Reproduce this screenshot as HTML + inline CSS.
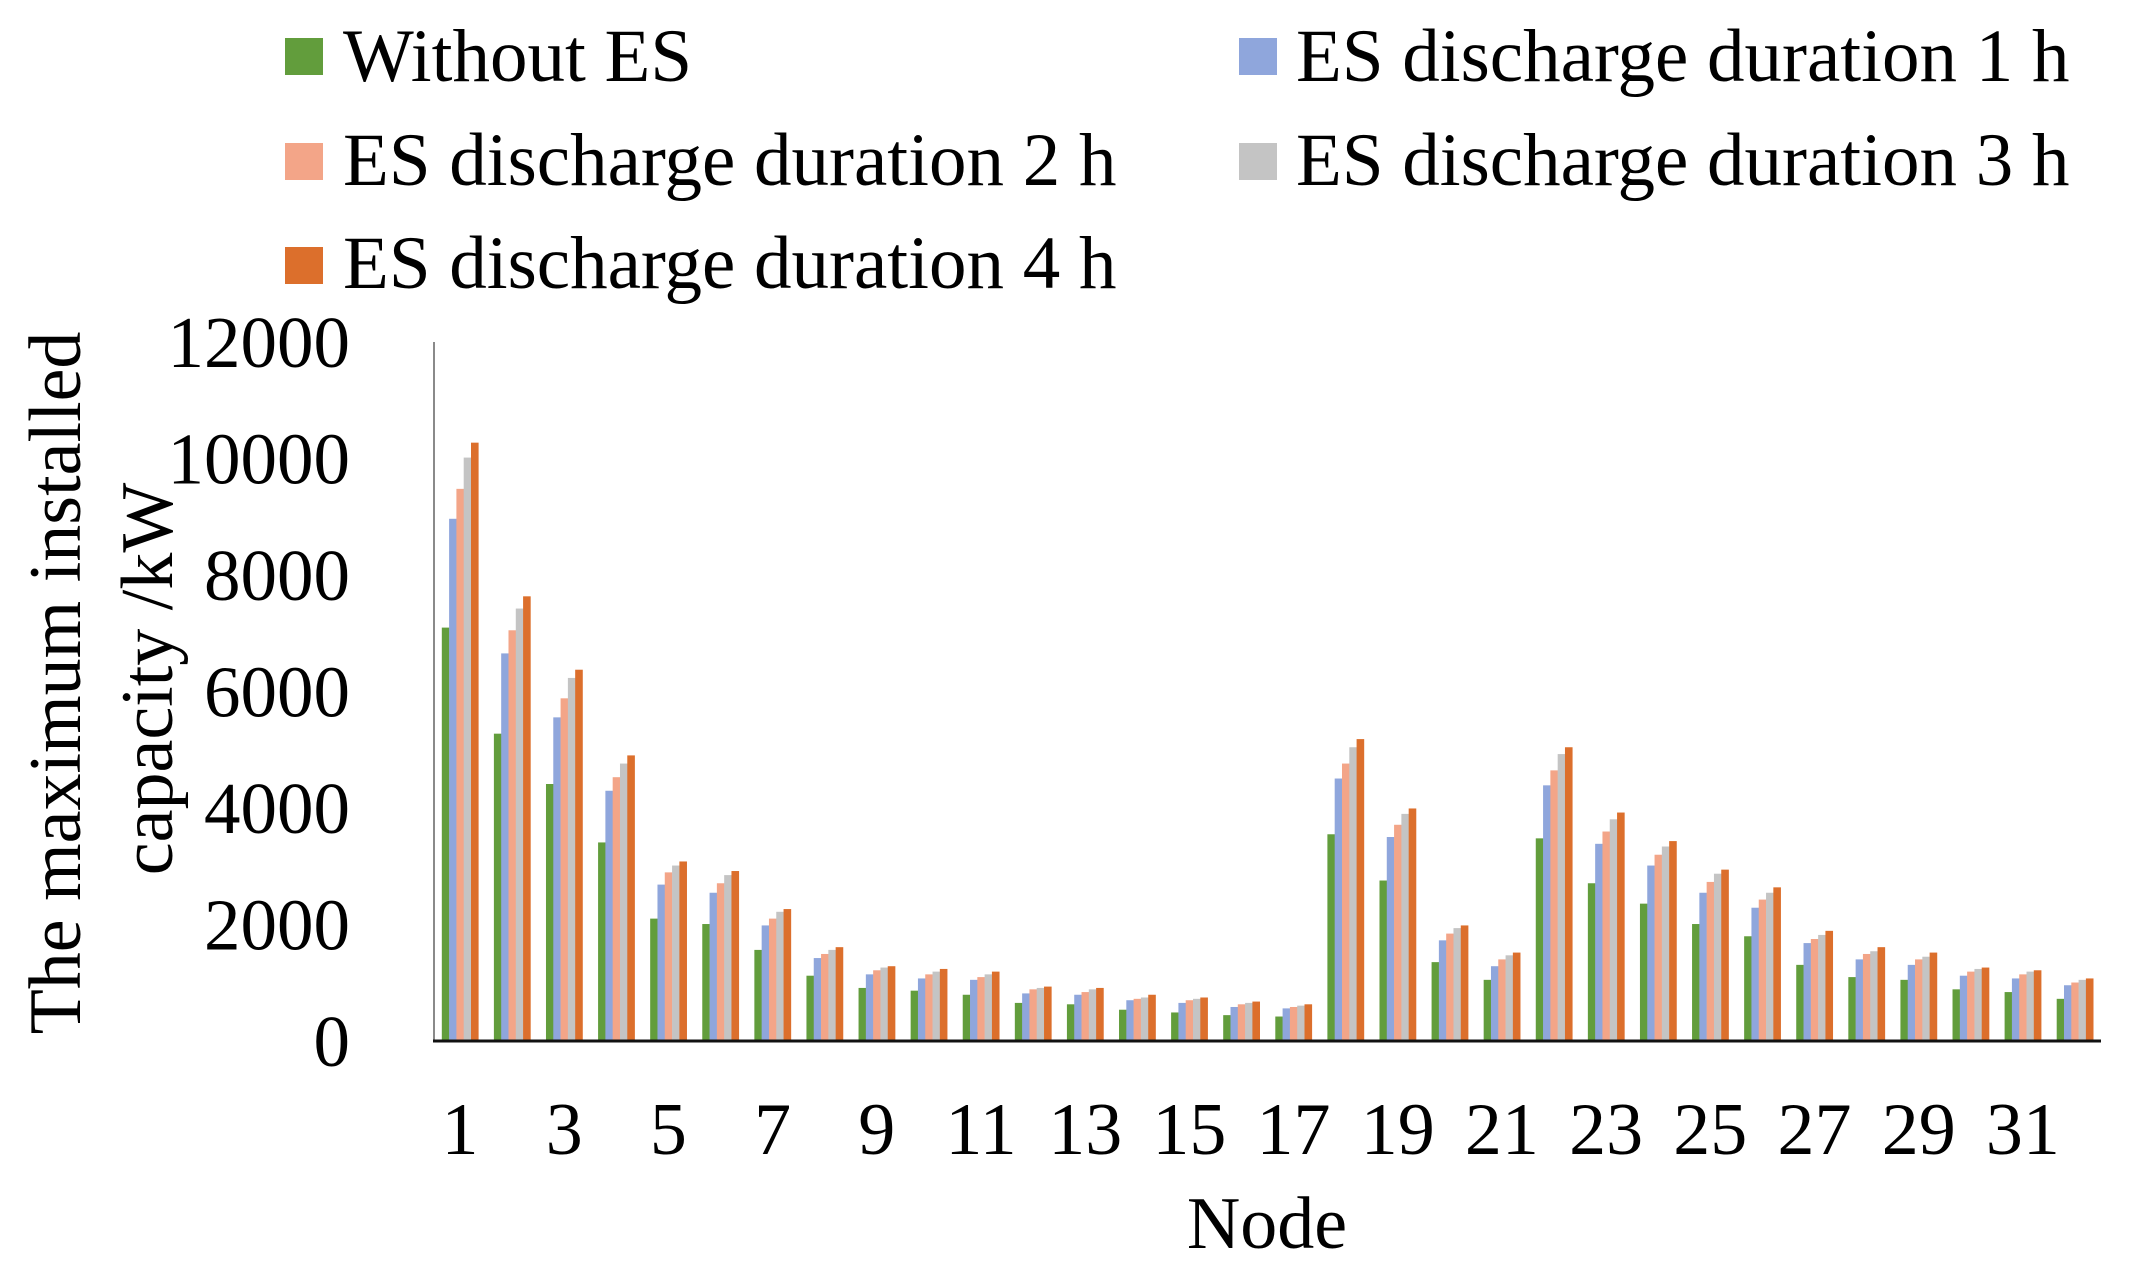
<!DOCTYPE html>
<html><head><meta charset="utf-8"><style>
html,body{margin:0;padding:0;background:#fff;}
svg{display:block;font-family:"Liberation Serif",serif;}
</style></head><body>
<svg id="c" width="2129" height="1278" viewBox="0 0 2129 1278" xmlns="http://www.w3.org/2000/svg">
<rect width="2129" height="1278" fill="#fff"/>
<g font-size="75" fill="#000">
<rect x="285" y="38" width="38" height="37" fill="#629d3c"/>
<text x="343" y="81">Without ES</text>
<rect x="285" y="143" width="38" height="37" fill="#f3a588"/>
<text x="343" y="185">ES discharge duration 2 h</text>
<rect x="285" y="247" width="38" height="37" fill="#dc6f2c"/>
<text x="343" y="288">ES discharge duration 4 h</text>
<rect x="1239" y="38" width="38" height="37" fill="#8fa6dc"/>
<text x="1296" y="81">ES discharge duration 1 h</text>
<rect x="1239" y="143" width="38" height="37" fill="#c4c4c4"/>
<text x="1296" y="185">ES discharge duration 3 h</text>
</g>
<g font-size="73" text-anchor="end" id="yt"></g>
<g font-size="74" text-anchor="middle">
<text transform="translate(80,683) rotate(-90)">The maximum installed</text>
<text transform="translate(172,679) rotate(-90)">capacity /kW</text>
<text x="1267" y="1248">Node</text>
</g>
<g id="bars"></g>
<line x1="434" y1="342" x2="434" y2="1041" stroke="#8a8a8a" stroke-width="2"/>
<line x1="433" y1="1041" x2="2101" y2="1041" stroke="#111" stroke-width="3"/>
<g font-size="74" text-anchor="middle" id="xt"></g>
</svg>
<script>
var d=[[7097,8965,9479,10016,10272],[5276,6654,7051,7424,7634],[4412,5556,5883,6233,6374],[3409,4296,4529,4763,4903],
[2101,2685,2895,3012,3082],[2008,2545,2708,2848,2918],[1564,1984,2101,2218,2265],[1121,1424,1494,1564,1611],
[911,1144,1214,1261,1284],[864,1074,1144,1191,1237],[794,1050,1097,1144,1191],[654,817,887,911,934],
[630,794,840,887,911],[537,700,724,747,794],[490,654,700,724,747],[444,584,630,654,677],[420,560,584,607,630],
[3549,4506,4763,5043,5183],[2755,3502,3712,3899,3992],[1354,1728,1844,1938,1984],[1050,1284,1401,1471,1518],
[3479,4389,4646,4926,5043],[2708,3385,3596,3806,3922],[2358,3012,3198,3339,3432],[2008,2545,2731,2872,2942],
[1798,2288,2428,2545,2638],[1307,1681,1751,1821,1891],[1097,1401,1494,1541,1611],[1050,1307,1401,1447,1518],
[887,1121,1191,1237,1261],[840,1074,1144,1191,1214],[724,957,1004,1050,1074]];
var col=["#629d3c","#8fa6dc","#f3a588","#c4c4c4","#dc6f2c"];
var ns="http://www.w3.org/2000/svg";
var base=1041,k=699/12000,pitch=(2101-434)/32,bw=7.3;
var g=document.getElementById("bars");
for(var i=0;i<32;i++){var cx=434+pitch*(i+0.5);var x0=cx-bw*2.5;
for(var j=0;j<5;j++){var h=d[i][j]*k;var r=document.createElementNS(ns,"rect");
r.setAttribute("x",(x0+j*bw).toFixed(2));r.setAttribute("y",(base-h).toFixed(2));
r.setAttribute("width",bw+0.3);r.setAttribute("height",h.toFixed(2));r.setAttribute("fill",col[j]);g.appendChild(r);}
if(i%2==0){var t=document.createElementNS(ns,"text");t.setAttribute("x",cx.toFixed(1));t.setAttribute("y",1154);t.textContent=String(i+1);document.getElementById("xt").appendChild(t);}}
var yt=document.getElementById("yt");
for(var v=0;v<=12000;v+=2000){var t=document.createElementNS(ns,"text");t.setAttribute("x",350);t.setAttribute("y",(base-v*k+25).toFixed(1));t.textContent=String(v);yt.appendChild(t);}
</script>
</body></html>
